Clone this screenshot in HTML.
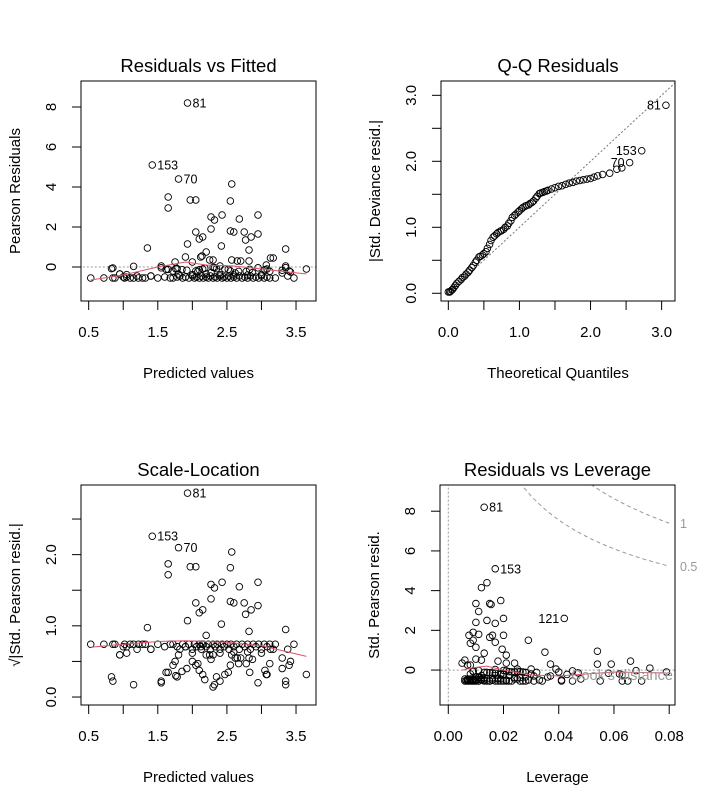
<!DOCTYPE html>
<html><head><meta charset="utf-8"><style>
html,body{margin:0;padding:0;background:#fff}
svg{display:block;font-family:"Liberation Sans",Arial,sans-serif}
</style></head><body>
<svg id="c" width="717" height="807" viewBox="0 0 717 807"></svg>
<script>
// ---- data: [fitted, pearson residual, leverage]
const fitted=[1.93,1.42,1.80,2.57,1.65,1.97,2.05,2.55,1.65,2.95,2.43,2.27,2.68,2.32,2.27,2.75,2.05,2.55,2.6,2.95,2.85,2.1,2.15,2.77,1.93,2.42,1.35,2.82,3.35,2.2,3.13,3.17,1.9,2.12,2.14,2.57,2.65,2.7,2.25,2.3,1.75,2.82,2.0,3.07,3.35,1.15,1.55,2.4,3.65,0.85,
0.53,0.72,0.85,0.88,0.95,1.0,1.02,1.05,1.1,1.15,1.2,1.22,1.28,1.32,1.4,1.5,1.6,1.68,1.72,1.78,1.82,1.86,1.9,1.95,2.0,2.03,2.06,2.1,2.13,2.16,2.2,2.23,2.26,2.3,2.33,2.36,2.4,2.43,2.46,2.5,2.53,2.56,2.6,2.64,2.68,2.72,2.76,2.8,2.84,2.88,2.92,2.96,3.0,3.04,3.08,3.12,3.2,3.3,3.38,3.42,3.47,
2.3,2.32,0.83,1.55,2.95,3.35,1.65,1.62,1.78,1.76,1.85,1.72,1.92,2.05,2.08,2.1,2.15,2.18,2.27,2.35,2.47,2.52,2.55,2.62,2.67,2.78,2.83,2.87,3.05,3.08,3.12,3.3,3.4,0.95,1.05,1.4,1.8,2.0,2.2,2.4,2.6,2.8,3.0];
const resid=[8.2,5.1,4.4,4.15,3.5,3.35,3.35,3.3,2.95,2.6,2.6,2.5,2.4,2.35,1.9,1.75,1.75,1.8,1.75,1.65,1.5,1.4,1.5,1.35,1.15,1.05,0.95,0.85,0.9,0.75,0.45,0.45,0.5,0.5,0.55,0.35,0.3,0.3,0.35,0.35,0.25,0.3,0.25,0.1,0.05,0.03,0.05,0.05,-0.1,-0.05,
-0.55,-0.55,-0.55,-0.55,-0.35,-0.5,-0.55,-0.5,-0.55,-0.55,-0.45,-0.55,-0.55,-0.55,-0.45,-0.55,-0.5,-0.55,-0.55,-0.5,-0.45,-0.55,-0.5,-0.55,-0.45,-0.55,-0.5,-0.55,-0.45,-0.55,-0.5,-0.55,-0.45,-0.55,-0.5,-0.55,-0.45,-0.55,-0.5,-0.55,-0.45,-0.55,-0.5,-0.55,-0.45,-0.55,-0.5,-0.55,-0.45,-0.55,-0.5,-0.55,-0.45,-0.55,-0.5,-0.55,-0.55,-0.3,-0.45,-0.25,-0.55,
-0.02,-0.03,-0.08,-0.04,-0.04,-0.03,-0.12,-0.12,-0.08,-0.09,-0.13,-0.2,-0.16,-0.2,-0.22,-0.14,-0.1,-0.06,-0.28,-0.08,-0.1,-0.12,-0.2,-0.3,-0.22,-0.22,-0.12,-0.28,-0.14,-0.1,-0.22,-0.16,-0.2,-0.35,-0.38,-0.45,-0.35,-0.38,-0.35,-0.38,-0.4,-0.4,-0.38];
const leverage=[0.013,0.017,0.014,0.012,0.019,0.010,0.015,0.0155,0.011,0.042,0.020,0.014,0.010,0.017,0.009,0.016,0.020,0.011,0.0075,0.015,0.029,0.017,0.009,0.008,0.010,0.0195,0.054,0.013,0.035,0.021,0.066,0.018,0.012,0.006,0.010,0.024,0.037,0.054,0.021,0.005,0.007,0.059,0.008,0.073,0.025,0.017,0.039,0.030,0.079,0.009,
0.070,0.063,0.055,0.045,0.036,0.041,0.041,0.033,0.028,0.026,0.024,0.022,0.021,0.020,0.019,0.018,0.016,0.015,0.014,0.013,0.012,0.011,0.010,0.010,0.009,0.009,0.008,0.008,0.007,0.007,0.007,0.006,0.006,0.0065,0.007,0.0075,0.008,0.0085,0.009,0.0095,0.010,0.011,0.012,0.013,0.014,0.015,0.016,0.017,0.018,0.019,0.021,0.023,0.025,0.027,0.029,0.031,0.034,0.037,0.048,0.063,0.065,
0.020,0.011,0.009,0.021,0.045,0.068,0.013,0.014,0.022,0.023,0.015,0.008,0.017,0.019,0.020,0.016,0.024,0.025,0.012,0.026,0.027,0.028,0.030,0.031,0.019,0.020,0.032,0.022,0.047,0.040,0.043,0.058,0.062,0.010,0.011,0.012,0.011,0.026,0.028,0.013,0.016,0.018,0.024];
const labelIdx=[0,1,2]; const labelText=["81","153","70"];
// QQ
const qqX=[0,0.02,0.03,0.05,0.06,0.08,0.1,0.12,0.15,0.18,0.2,0.23,0.25,0.28,0.3,0.33,0.35,0.38,0.4,0.43,0.45,0.48,0.5,0.53,0.55,0.58,0.6,0.63,0.65,0.68,0.7,0.73,0.75,0.78,0.8,0.83,0.85,0.88,0.9,0.93,0.95,0.98,1.0,1.03,1.05,1.08,1.1,1.13,1.15,1.18,1.2,1.23,1.25,1.28,1.3,1.33,1.35,1.38,1.4,1.45,1.5,1.55,1.6,1.65,1.7,1.75,1.8,1.85,1.9,1.95,2.0,2.05,2.1,2.17,2.27,2.37,2.44,2.55,2.72,3.06];
const qqY=[0.02,0.02,0.03,0.05,0.06,0.09,0.12,0.15,0.18,0.21,0.24,0.26,0.29,0.32,0.35,0.39,0.42,0.47,0.5,0.55,0.56,0.58,0.6,0.63,0.68,0.74,0.8,0.85,0.87,0.9,0.92,0.94,0.95,0.97,1.0,1.02,1.06,1.1,1.15,1.18,1.2,1.23,1.25,1.28,1.3,1.32,1.33,1.34,1.36,1.38,1.4,1.44,1.47,1.51,1.52,1.53,1.54,1.55,1.56,1.58,1.6,1.62,1.63,1.65,1.67,1.68,1.7,1.71,1.72,1.73,1.74,1.76,1.78,1.8,1.82,1.88,1.9,1.98,2.16,2.85];
const qqLabIdx=[79,78,77]; const qqLabText=["81","153","70"];
// smoothers
const sm1X=[0.53,1.0,1.5,1.9,2.2,2.6,3.0,3.65], sm1Y=[-0.65,-0.4,0.0,0.25,0.1,0.05,-0.1,-0.35];
const sm3X=[0.53,1.0,1.5,1.9,2.5,3.0,3.65], sm3Y=[0.70,0.74,0.78,0.79,0.77,0.72,0.57];
const sm4X=[0.005,0.009,0.014,0.02,0.03,0.04,0.05,0.06,0.079], sm4Y=[0.0,0.12,0.2,0.0,-0.25,-0.3,-0.2,-0.1,-0.15];
const cookLevels=[0.5,1]; const cookP=4.76;

const NS="http://www.w3.org/2000/svg";
const svg=document.getElementById('c');
function mk(tag,attrs,parent){const e=document.createElementNS(NS,tag);for(const k in attrs)e.setAttribute(k,attrs[k]);(parent||svg).appendChild(e);return e;}
function txt(s,x,y,size,opts,parent){const t=mk('text',Object.assign({x:x,y:y,'font-size':size,'text-anchor':'middle',fill:'#000'},opts||{}),parent);t.textContent=s;return t;}

function panel(cfg){
  const g=mk('g',{});
  
  
  const b=cfg.box;
  const sx=v=>b.x0+(v-cfg.xd[0])/(cfg.xd[1]-cfg.xd[0])*(b.x1-b.x0);
  const sy=v=>b.y1-(v-cfg.yd[0])/(cfg.yd[1]-cfg.yd[0])*(b.y1-b.y0);
  const cid='clip-'+cfg.name;
  const cp=mk('clipPath',{id:cid},g);mk('rect',{x:b.x0,y:b.y0,width:b.x1-b.x0,height:b.y1-b.y0},cp);
  const inner=mk('g',{'clip-path':'url(#'+cid+')'},g);
  const t=txt(cfg.title,(b.x0+b.x1)/2,b.y0-9,18.5,{},g);
  
  
  const xa=mk('g',{},g);
  
  
  mk('line',{x1:sx(cfg.xt[0]),x2:sx(cfg.xt[cfg.xt.length-1]),y1:b.y1,y2:b.y1,stroke:'#000'},xa);
  cfg.xt.forEach((v,i)=>{const x=sx(v);mk('line',{x1:x,x2:x,y1:b.y1,y2:b.y1+9,stroke:'#000'},xa);
    if(cfg.xl[i]!=='')txt(cfg.xl[i],x,b.y1+36,15,{},xa);});
  const xt=txt(cfg.xlab,(b.x0+b.x1)/2,b.y1+77,15,{},g);
  
  
  const ya=mk('g',{},g);
  
  
  mk('line',{x1:b.x0,x2:b.x0,y1:sy(cfg.yt[0]),y2:sy(cfg.yt[cfg.yt.length-1]),stroke:'#000'},ya);
  cfg.yt.forEach((v,i)=>{const y=sy(v);mk('line',{x1:b.x0-9,x2:b.x0,y1:y,y2:y,stroke:'#000'},ya);
    if(cfg.yl[i]!==''){txt(cfg.yl[i],0,0,15,{transform:'translate('+(b.x0-25)+','+y+') rotate(-90)'},ya);}});
  const yt=txt(cfg.ylab,0,0,15,{transform:'translate('+(b.x0-61)+','+((b.y0+b.y1)/2)+') rotate(-90)'},g);
  
  
  mk('rect',{x:b.x0,y:b.y0,width:b.x1-b.x0,height:b.y1-b.y0,fill:'none',stroke:'#000'},g);
  return {g,inner,sx,sy};
}
function pts(p,xs,ys,name){
  for(let i=0;i<xs.length;i++){
    const c=mk('circle',{cx:p.sx(xs[i]),cy:p.sy(ys[i]),r:3.3,fill:'none',stroke:'#000','stroke-width':0.9},p.inner);
    
    
  }
}
function poly(p,xs,ys,attrs,name){
  const d=xs.map((x,i)=>(i?'L':'M')+p.sx(x).toFixed(1)+','+p.sy(ys[i]).toFixed(1)).join('');
  const e=mk('path',Object.assign({d:d,fill:'none'},attrs),p.inner);
  
  
}
function labels(p,xs,ys,idx,texts,left){
  idx.forEach((k,i)=>{const t=txt(texts[i],p.sx(xs[k])+(left?-5:5),p.sy(ys[k])+4.5,12.5,{'text-anchor':left?'end':'start'},p.g);
    
    });
}

const p1=panel({name:'residuals-vs-fitted',title:'Residuals vs Fitted',box:{x0:81,x1:316,y0:81,y1:301},xd:[0.389,3.789],yd:[-1.7,9.3],
  xt:[0.5,1,1.5,2,2.5,3,3.5],xl:['0.5','','1.5','','2.5','','3.5'],yt:[0,2,4,6,8],yl:['0','2','4','6','8'],xlab:'Predicted values',ylab:'Pearson Residuals'});
poly(p1,[0.3,4],[0,0],{stroke:'#999','stroke-dasharray':'2,2'},'zero-line');
pts(p1,fitted,resid,'residual-point');
poly(p1,sm1X,sm1Y,{stroke:'#DF536B'},'smoother-line');
labels(p1,fitted,resid,labelIdx,labelText,false);

const p2=panel({name:'qq-residuals',title:'Q-Q Residuals',box:{x0:441,x1:675,y0:81,y1:301},xd:[-0.103,3.188],yd:[-0.117,3.217],
  xt:[0,0.5,1,1.5,2,2.5,3],xl:['0.0','','1.0','','2.0','','3.0'],yt:[0,0.5,1,1.5,2,2.5,3],yl:['0.0','','1.0','','2.0','','3.0'],xlab:'Theoretical Quantiles',ylab:'|Std. Deviance resid.|'});
poly(p2,[0,3.5],[0,3.5],{stroke:'#777','stroke-dasharray':'2,2'},'reference-line');
pts(p2,qqX,qqY,'qq-point');
labels(p2,qqX,qqY,qqLabIdx,qqLabText,true);

const sl=resid.map(r=>Math.sqrt(Math.abs(r)));
const p3=panel({name:'scale-location',title:'Scale-Location',box:{x0:81,x1:316,y0:485,y1:705},xd:[0.389,3.789],yd:[-0.112,2.978],
  xt:[0.5,1,1.5,2,2.5,3,3.5],xl:['0.5','','1.5','','2.5','','3.5'],yt:[0,0.5,1,1.5,2,2.5],yl:['0.0','','1.0','','2.0',''],xlab:'Predicted values',ylab:'√|Std. Pearson resid.|'});
pts(p3,fitted,sl,'scale-point');
poly(p3,sm3X,sm3Y,{stroke:'#DF536B'},'smoother-line');
labels(p3,fitted,sl,labelIdx,labelText,false);

const p4=panel({name:'residuals-vs-leverage',title:'Residuals vs Leverage',box:{x0:440,x1:675,y0:485,y1:705},xd:[-0.003,0.0821],yd:[-1.76,9.32],
  xt:[0,0.02,0.04,0.06,0.08],xl:['0.00','0.02','0.04','0.06','0.08'],yt:[0,2,4,6,8],yl:['0','2','4','6','8'],xlab:'Leverage',ylab:'Std. Pearson resid.'});
poly(p4,[-0.01,0.1],[0,0],{stroke:'#999','stroke-dasharray':'2,2'},'zero-line');
poly(p4,[0,0],[-3,12],{stroke:'#999','stroke-dasharray':'2,2'},'zero-leverage-line');
cookLevels.forEach(c=>{const hs=[],ys=[];for(let h=0.01;h<=0.0801;h+=0.001){hs.push(h);ys.push(Math.sqrt(c*cookP*(1-h)/h));}
  poly(p4,hs,ys,{stroke:'#999','stroke-dasharray':'4,3'},'cooks-contour');
  const t=txt(String(c),680,p4.sy(ys[ys.length-1])+5,12.5,{'text-anchor':'start',fill:'#999'},p4.g);
  
  });
pts(p4,leverage,resid,'leverage-point');
poly(p4,sm4X,sm4Y,{stroke:'#DF536B'},'smoother-line');
labels(p4,leverage,resid,[0,1],['81','153'],false);
labels(p4,leverage,resid,[9],['121'],true);
const ck=txt("Cook's distance",571,p4.sy(-0.25)+5,14.5,{'text-anchor':'start',fill:'#999'},p4.inner);


</script>
</body></html>
